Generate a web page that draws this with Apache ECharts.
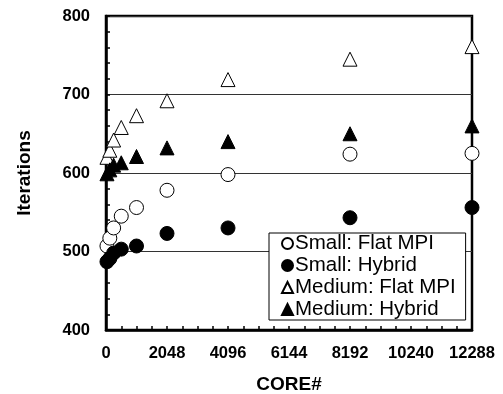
<!DOCTYPE html>
<html><head><meta charset="utf-8">
<script src="https://cdn.jsdelivr.net/npm/echarts@6/dist/echarts.min.js"></script>
<style>html,body{margin:0;padding:0;background:#fff}#c{width:503px;height:394px}</style>
</head><body><div id="c"></div>
<script>
var cores = [32, 128, 256, 512, 1024, 2048, 4096, 8192, 12288];
var smallFlat = [507, 517, 530, 545, 556, 578, 598, 624, 625];
var smallHybrid = [487, 491, 498, 503, 507, 523, 530, 543, 556];
var mediumFlat = [620, 629, 642, 658, 673, 692, 719, 745, 761];
var mediumHybrid = [599, 604, 610, 613, 621, 632, 640, 650, 660];
var xTickLabels = [0, 2048, 4096, 6144, 8192, 10240, 12288];
var yTickLabels = [400, 500, 600, 700, 800];
var seriesNames = ['Small: Flat MPI', 'Small: Hybrid', 'Medium: Flat MPI', 'Medium: Hybrid'];

function pairs(ys){ return cores.map(function(c,i){return [c, ys[i]];}); }
var font = 'Liberation Sans, Arial, sans-serif';
function mk(name, ys, symbol, filled, size){
  return {
    name: name, type: 'scatter', data: pairs(ys), symbol: symbol, symbolSize: size,
    clip: false,
    itemStyle: {color: filled ? '#000' : '#fff', borderColor: '#000', borderWidth: 1, opacity: 1},
    emphasis: {disabled: true}
  };
}
var chart = echarts.init(document.getElementById('c'), null, {renderer: 'canvas'});
chart.setOption({
  animation: false,
  grid: {left: 106, right: 31, top: 16, bottom: 64, show: true, borderColor: '#000', borderWidth: 2.5,
    backgroundColor: 'transparent', containLabel: false, outerBoundsMode: 'none'},
  xAxis: {
    type: 'value', min: 0, max: 12288, interval: 512,
    name: 'CORE#', nameLocation: 'middle', nameGap: 45,
    nameTextStyle: {fontFamily: font, fontWeight: 'bold', fontSize: 19, color: '#000'},
    axisLine: {lineStyle: {color: '#000', width: 2.5}},
    axisTick: {inside: true, length: 4, lineStyle: {color: '#000', width: 1.5}},
    splitLine: {show: false},
    axisLabel: {margin: 15, fontFamily: font, fontWeight: 'bold', fontSize: 16.5, color: '#000',
      formatter: function(v){ return xTickLabels.indexOf(v) >= 0 ? String(v) : ''; }}
  },
  yAxis: {
    type: 'value', min: 400, max: 800, interval: 100,
    name: 'Iterations', nameLocation: 'middle', nameGap: 72, nameRotate: 90,
    nameTextStyle: {fontFamily: font, fontWeight: 'bold', fontSize: 19, color: '#000'},
    axisLine: {lineStyle: {color: '#000', width: 2.5}},
    axisTick: {inside: true, length: 4, lineStyle: {color: '#000', width: 1.5}},
    minorTick: {show: true, splitNumber: 5, length: 4, lineStyle: {color: '#000', width: 1.5}},
    splitLine: {show: true, lineStyle: {color: '#333', width: 1}},
    axisLabel: {margin: 16, fontFamily: font, fontWeight: 'bold', fontSize: 16.5, color: '#000',
      formatter: function(v){ return yTickLabels.indexOf(v) >= 0 ? String(v) : ''; }}
  },
  legend: {
    orient: 'vertical', left: 269, top: 233,
    data: seriesNames,
    backgroundColor: '#fff', borderColor: '#000', borderWidth: 1,
    padding: [0, 10, 0, 12], itemGap: 1, itemWidth: 11, itemHeight: 11,
    textStyle: {fontFamily: font, fontSize: 20.5, color: '#000', padding: [0,0,0,-3], lineHeight: 20},
    selectedMode: false
  },
  series: [
    mk(seriesNames[0], smallFlat, 'circle', false, 14),
    mk(seriesNames[1], smallHybrid, 'circle', true, 14),
    mk(seriesNames[2], mediumFlat, 'triangle', false, 14),
    mk(seriesNames[3], mediumHybrid, 'triangle', true, 14)
  ]
});
</script></body></html>
